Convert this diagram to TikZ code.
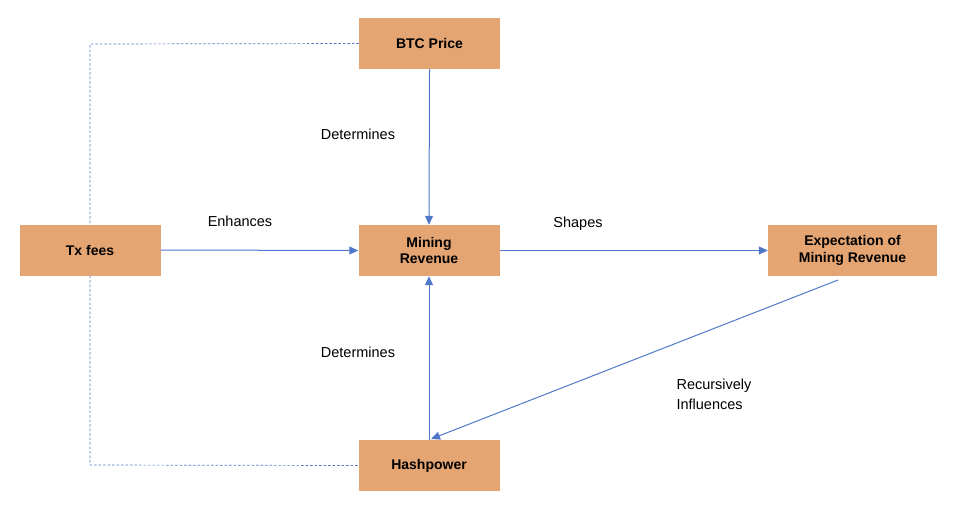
\documentclass[tikz,border=0pt]{standalone}
\usepackage{fontspec}
\setmainfont{Liberation Sans}
\usetikzlibrary{arrows.meta}
\definecolor{boxc}{RGB}{228,165,115}
\definecolor{linec}{RGB}{80,120,200}
\begin{document}
\begin{tikzpicture}[x=1pt,y=-1pt,
 box/.style={draw=none,fill=boxc,minimum width=141pt,minimum height=51pt,align=center,font=\bfseries\fontsize{14}{16.5}\selectfont},
 arr/.style={draw=linec,line width=1pt,-{Triangle[length=9pt,width=8pt]}},
 dotline/.style={draw=linec,line width=0.7pt,dash pattern=on 2.5pt off 2pt},
 lab/.style={font=\fontsize{14.5}{20}\selectfont,align=left}]
\useasboundingbox (0,0) rectangle (960,511);
\node[box] (btc) at (429.5,43.5) {BTC Price};
\node[box] (tx) at (90,250) {Tx fees};
\node[box] (mr) at (429,250.5) {Mining\\Revenue};
\node[box,minimum width=169pt] (exp) at (852.5,250.5) {Expectation of\\Mining Revenue};
\node[box] (hp) at (429,465.5) {Hashpower};
\coordinate (c1) at (90,44);
\coordinate (c2) at (90,465);
\coordinate (e1) at (838,280);
\coordinate (h1) at (431,439);
\draw[dotline] (btc.west) -- (c1) -- (tx.north);
\draw[dotline] (tx.south) -- (c2) -- (hp.west);
\draw[arr] (btc.south) -- (mr.north);
\draw[arr] (tx.east) -- (mr.west);
\draw[arr] (mr.east) -- (exp.west);
\draw[arr] (hp.north) -- (mr.south);
\draw[arr] (e1) -- (h1);
\node[lab] (l1) at (358,134) {Determines};
\node[lab] (l2) at (240,221) {Enhances};
\node[lab] (l3) at (578,224) {Shapes};
\node[lab] (l4) at (358,352) {Determines};
\node[lab] (l5) at (714,394) {Recursively\\Influences};
\end{tikzpicture}
\end{document}
